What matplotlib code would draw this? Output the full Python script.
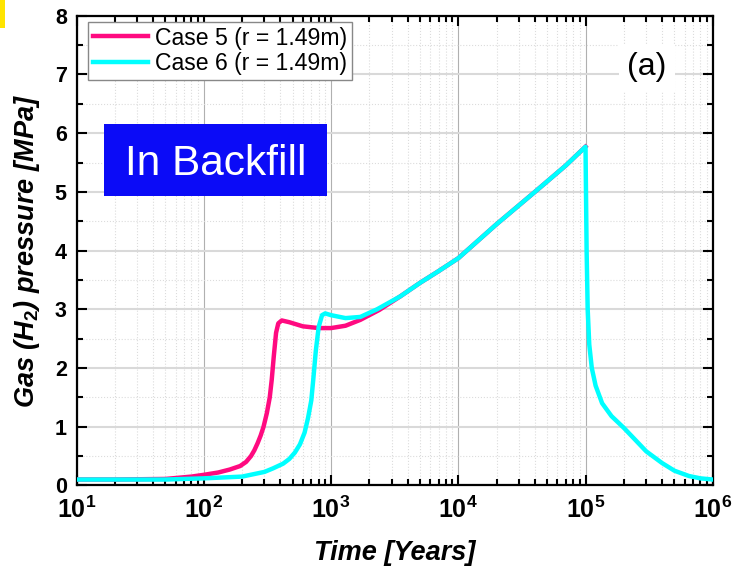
import numpy as np
import matplotlib
matplotlib.use("Agg")
import matplotlib.pyplot as plt
from matplotlib.patches import Rectangle
from matplotlib.ticker import FixedLocator, FuncFormatter, MultipleLocator

plt.rcParams['font.family'] = ['Liberation Sans', 'DejaVu Sans']
plt.rcParams['mathtext.fontset'] = 'custom'
plt.rcParams['mathtext.rm'] = 'Liberation Sans:bold'
plt.rcParams['mathtext.bf'] = 'Liberation Sans:bold'
plt.rcParams['mathtext.it'] = 'Liberation Sans:bold:italic'

# Case 5 (pink)
t5 = [10, 20, 50, 80, 100, 130, 160, 193, 215, 235, 250, 265, 280, 295, 313, 330, 342, 355, 370,
      385, 410, 470, 600, 800, 1000, 1300, 1700, 2400, 3500, 5000, 7000, 1e4, 2e4, 4e4, 7e4, 1e5]
p5 = [0.1, 0.1, 0.11, 0.15, 0.18, 0.22, 0.27, 0.33, 0.4, 0.5, 0.6, 0.72, 0.85, 1.0, 1.23, 1.5,
      1.8, 2.2, 2.6, 2.76, 2.81, 2.78, 2.71, 2.68, 2.68, 2.72, 2.82, 2.99, 3.22, 3.45, 3.65, 3.87,
      4.45, 5.0, 5.45, 5.77]

# Case 6 (cyan)
t6 = [10, 50, 100, 200, 300, 350, 420, 470, 520, 570, 620, 660, 700, 725, 760, 800, 850, 900,
      1000, 1300, 1700, 2300, 3500, 5000, 7000, 1e4, 2e4, 4e4, 7e4, 1e5,
      1.005e5, 1.02e5, 1.04e5, 1.07e5, 1.12e5, 1.2e5, 1.35e5, 1.6e5, 2e5, 2.5e5, 3e5,
      4e5, 5e5, 6.5e5, 8e5, 1e6]
p6 = [0.1, 0.1, 0.12, 0.15, 0.23, 0.29, 0.37, 0.45, 0.56, 0.7, 0.9, 1.15, 1.45, 1.8, 2.3, 2.7,
      2.9, 2.93, 2.9, 2.85, 2.87, 3.0, 3.22, 3.45, 3.65, 3.87, 4.45, 5.0, 5.45, 5.77,
      5.3, 4.0, 3.0, 2.4, 2.0, 1.7, 1.4, 1.18, 0.98, 0.76, 0.58,
      0.38, 0.25, 0.16, 0.12, 0.1]

labels = ['Case 5 (r = 1.49m)', 'Case 6 (r = 1.49m)']
colors = ['#ff0a80', '#00ffff']

fig = plt.figure(figsize=(7.33, 5.72), dpi=100)
ax = fig.add_axes([0.1044, 0.1514, 0.8680, 0.8210])

ax.plot(t5, p5, color=colors[0], lw=3.2, label=labels[0], zorder=3, solid_joinstyle='round')
ax.plot(t6, p6, color=colors[1], lw=3.2, label=labels[1], zorder=4, solid_joinstyle='round')

ax.set_xscale('log')
ax.set_xlim(10, 1e6)
ax.set_ylim(0, 8)
ax.yaxis.set_major_locator(MultipleLocator(1))
ax.yaxis.set_minor_locator(MultipleLocator(0.5))
ax.xaxis.set_major_locator(FixedLocator([10**k for k in range(1, 7)]))
ax.xaxis.set_minor_locator(FixedLocator([m * 10**k for k in range(1, 6) for m in range(2, 10)]))
ax.xaxis.set_major_formatter(FuncFormatter(lambda v, p: r'$\mathbf{10^{%d}}$' % round(np.log10(v))))

ax.grid(which='major', axis='y', color='#d9d9d9', lw=1.5, zorder=0)
ax.grid(which='major', axis='x', color='#b0b0b0', lw=0.8, zorder=0)
ax.grid(which='minor', color='#dcdcdc', ls=':', lw=0.8, zorder=0)
ax.set_axisbelow(True)

ax.tick_params(which='both', direction='in', top=True, right=True, width=1.5)
ax.tick_params(which='major', length=7)
ax.tick_params(axis='x', which='major', labelsize=18, pad=8)
ax.tick_params(axis='y', which='major', labelsize=15.5, pad=7)
ax.tick_params(which='minor', length=4)
for lab in ax.get_yticklabels():
    lab.set_fontweight('bold')
for s in ax.spines.values():
    s.set_linewidth(1.6)

ax.set_xlabel('Time [Years]', fontsize=19.5, fontweight='bold', fontstyle='italic', labelpad=12)
ax.set_ylabel(r'Gas ($H_2$) pressure [MPa]', fontsize=19.5, fontweight='bold',
              fontstyle='italic', labelpad=9)

leg = ax.legend(loc='upper left', bbox_to_anchor=(0.018, 0.987), borderaxespad=0,
                fontsize=16.6, frameon=True, fancybox=False, framealpha=1,
                edgecolor='#888888', handlelength=2.4, handletextpad=0.3,
                labelspacing=0.12, borderpad=0.2)
leg.get_frame().set_linewidth(1.0)

# "In Backfill" label box
ax.add_patch(Rectangle((0.0432, 0.6163), 0.3505, 0.1533, transform=ax.transAxes,
                       facecolor='#0b0bf7', edgecolor='none', zorder=5))
ax.text(0.2185, 0.661, 'In Backfill', transform=ax.transAxes, ha='center', va='baseline',
        fontsize=30.5, color='white', zorder=6)

ax.text(0.896, 0.89, '(a)', transform=ax.transAxes, ha='center', va='center', fontsize=23,
        zorder=6, bbox=dict(facecolor='white', edgecolor='none', pad=6))

fig.patches.append(Rectangle((0, 0.951), 0.007, 0.049, transform=fig.transFigure,
                             facecolor='#ffe400', edgecolor='none'))

fig.savefig('out.png', dpi=100)
